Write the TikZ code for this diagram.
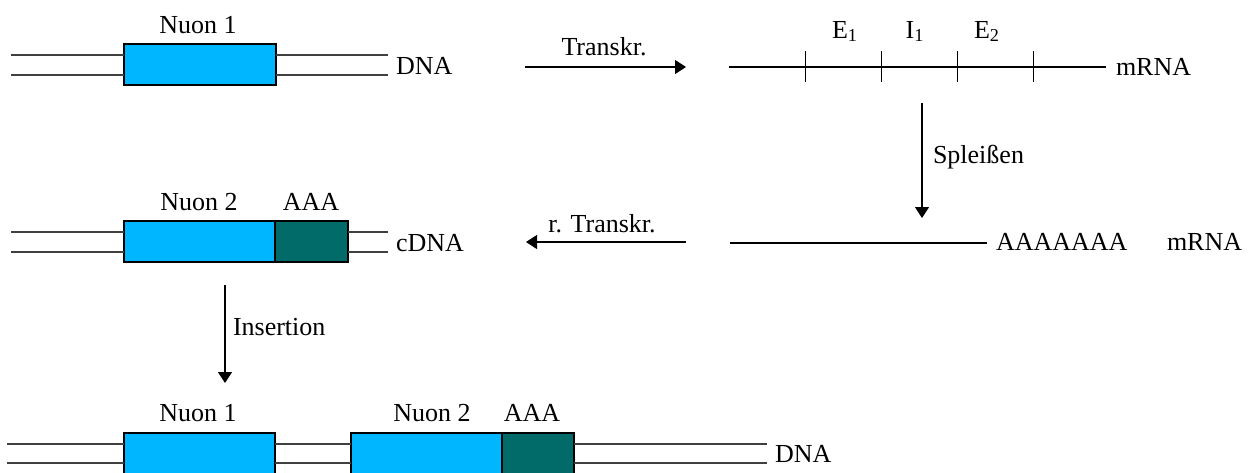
\documentclass[tikz,border=0pt]{standalone}
\usepackage{fontspec}
\setmainfont{Liberation Serif}
\usetikzlibrary{arrows.meta}
\definecolor{nuon}{RGB}{0,183,255}
\definecolor{polya}{RGB}{0,107,105}
\begin{document}
\begin{tikzpicture}[x=0.5pt,y=-0.5pt,
  font=\fontsize{13}{15.6}\selectfont,
  strand/.style={draw=black!75,line width=0.6pt},
  rna/.style={draw=black,line width=0.55pt},
  exon/.style={draw=black,line width=0.6pt,fill=nuon,minimum height=20.5pt,inner sep=0pt,outer sep=0pt},
  tailbox/.style={draw=black,line width=0.6pt,fill=polya,minimum height=20.5pt,inner sep=0pt,outer sep=0pt},
  lbl/.style={inner sep=0pt,outer sep=0pt},
  arr/.style={-{Triangle[length=5.5pt,width=7pt]},line width=0.55pt}]
\useasboundingbox (0,0) rectangle (1253,472);

% ---------- Row 1: DNA with Nuon 1 ----------
\node[exon,minimum width=76pt] (n1) at (200,64.5) {};
\coordinate (a1) at (11,55);
\coordinate (a2) at (11,75);
\coordinate (a3) at (388,55);
\coordinate (a4) at (388,75);
\draw[strand] (a1) -- (a1 -| n1.west);
\draw[strand] (a2) -- (a2 -| n1.west);
\draw[strand] (a3 -| n1.east) -- (a3);
\draw[strand] (a4 -| n1.east) -- (a4);
\node[lbl,anchor=base] (t1) at (198,33) {Nuon 1};
\node[lbl,anchor=base west] (dna1) at (396,74) {DNA};

% Transkr.
\coordinate (tr1) at (525,67);
\coordinate (tr2) at (686,67);
\draw[arr] (tr1) -- (tr2);
\node[lbl,anchor=base] (trl) at (604,55) {Transkr.};

% mRNA with exons/intron
\coordinate (m1) at (729,67);
\coordinate (m2) at (1106,67);
\draw[rna] (m1) -- (m2);
\foreach \x/\n in {805.5/k1,881.5/k2,957.5/k3,1033.5/k4}{
  \coordinate (\n t) at (\x,51);
  \coordinate (\n b) at (\x,82);
  \draw[rna] (\n t) -- (\n b);
}
\node[lbl,anchor=base] (e1) at (845,38) {E\textsubscript{1}};
\node[lbl,anchor=base] (i1) at (915,38) {I\textsubscript{1}};
\node[lbl,anchor=base] (e2) at (987,38) {E\textsubscript{2}};
\node[lbl,anchor=base west] (mrna1) at (1116,75) {mRNA};

% Spleissen
\coordinate (s1) at (922,103);
\coordinate (s2) at (922,218);
\draw[arr] (s1) -- (s2);
\node[lbl,anchor=base west] (spl) at (933,163) {Spleißen};

% ---------- Row 2: spliced mRNA ----------
\coordinate (p1) at (730,243);
\coordinate (p2) at (987,243);
\draw[rna] (p1) -- (p2);
\node[lbl,anchor=base west] (polyA) at (996,250) {AAAAAAA};
\node[lbl,anchor=base west] (mrna2) at (1167,250) {mRNA};

% r. Transkr.
\coordinate (rt1) at (686,242);
\coordinate (rt2) at (526,242);
\draw[arr] (rt1) -- (rt2);
\node[lbl,anchor=base] (rtl) at (602,232) {r. Transkr.};

% cDNA
\node[exon,minimum width=75.5pt] (n2) at (199.5,241.5) {};
\node[tailbox,minimum width=36.5pt,anchor=west] (aaa2) at (n2.east) {};
\coordinate (c1) at (11,232);
\coordinate (c2) at (11,252);
\coordinate (c3) at (388,232);
\coordinate (c4) at (388,252);
\draw[strand] (c1) -- (c1 -| n2.west);
\draw[strand] (c2) -- (c2 -| n2.west);
\draw[strand] (c3 -| aaa2.east) -- (c3);
\draw[strand] (c4 -| aaa2.east) -- (c4);
\node[lbl,anchor=base] (t2) at (199,210) {Nuon 2};
\node[lbl,anchor=base] (t3) at (311,210) {AAA};
\node[lbl,anchor=base west] (cdna) at (396,251) {cDNA};

% Insertion
\coordinate (in1) at (225,285);
\coordinate (in2) at (225,383);
\draw[arr] (in1) -- (in2);
\node[lbl,anchor=base west] (ins) at (233,335) {Insertion};

% ---------- Row 3: DNA after insertion ----------
\node[exon,minimum width=75.5pt,anchor=north west] (b1) at (124,433) {};
\node[exon,minimum width=75.5pt,anchor=north west] (b2) at (351,433) {};
\node[tailbox,minimum width=36pt,anchor=west] (b3) at (b2.east) {};
\coordinate (d1) at (7,444);
\coordinate (d2) at (7,463);
\coordinate (d3) at (767,444);
\coordinate (d4) at (767,463);
\draw[strand] (d1) -- (d1 -| b1.west);
\draw[strand] (d2) -- (d2 -| b1.west);
\draw[strand] (d1 -| b1.east) -- (d1 -| b2.west);
\draw[strand] (d2 -| b1.east) -- (d2 -| b2.west);
\draw[strand] (d3 -| b3.east) -- (d3);
\draw[strand] (d4 -| b3.east) -- (d4);
\node[lbl,anchor=base] (t4) at (198,421) {Nuon 1};
\node[lbl,anchor=base] (t5) at (432,421) {Nuon 2};
\node[lbl,anchor=base] (t6) at (532,421) {AAA};
\node[lbl,anchor=base west] (dna2) at (775,462) {DNA};
\end{tikzpicture}
\end{document}
